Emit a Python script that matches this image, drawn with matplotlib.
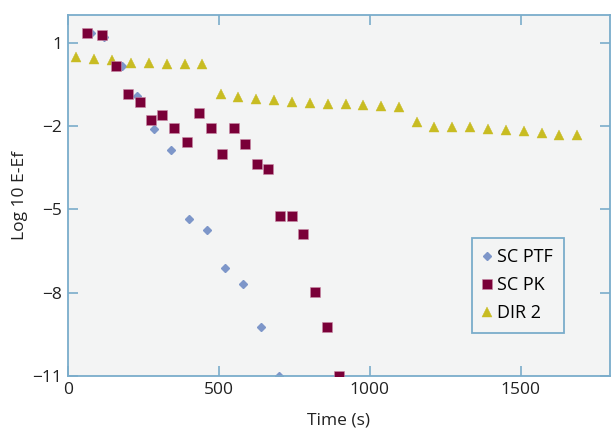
import matplotlib
matplotlib.use('Agg')
import matplotlib.pyplot as plt

plt.rcParams['font.family'] = ['Open Sans', 'DejaVu Sans']
plt.rcParams['axes.unicode_minus'] = True

# data
ptf_t = [76, 119, 178, 228, 285, 341, 401, 460, 520, 580, 639, 699]
ptf_y = [1.37, 1.2, 0.16, -0.9, -2.1, -2.86, -5.35, -5.75, -7.11, -7.69, -9.24, -11.0]

pk_t = [65, 112, 161, 200, 238, 275, 312, 352, 396, 435, 473, 511, 549, 586,
        625, 663, 702, 742, 780, 819, 858, 897]
pk_y = [1.37, 1.28, 0.16, -0.86, -1.15, -1.79, -1.59, -2.07, -2.57, -1.54,
        -2.07, -3.0, -2.06, -2.65, -3.36, -3.56, -5.23, -5.23, -5.89, -7.96,
        -9.22, -11.0]

dir_t = [27, 86, 145, 209, 268, 328, 387, 446, 506, 565, 624, 682, 742, 801,
         861, 920, 979, 1037, 1096, 1156, 1214, 1274, 1332, 1392, 1450, 1510,
         1569, 1628, 1686]
dir_y = [0.50, 0.40, 0.38, 0.28, 0.26, 0.23, 0.22, 0.22, -0.85, -0.97, -1.02,
         -1.06, -1.12, -1.18, -1.21, -1.22, -1.24, -1.28, -1.30, -1.87, -2.03,
         -2.02, -2.05, -2.12, -2.13, -2.19, -2.26, -2.32, -2.33]

xticks = [0, 500, 1000, 1500]
yticks = [1, -2, -5, -8, -11]

blue = '#7aaccb'
fig = plt.figure(figsize=(6.11, 4.29), dpi=100)
ax = fig.add_axes([0.111, 0.1235, 0.887, 0.8415])
ax.set_facecolor('#f3f4f4')

ax.plot(ptf_t, ptf_y, 'D', color='#7d96c9', ms=4.5, mec='#7d96c9', label='SC PTF', zorder=2)
ax.plot(pk_t, pk_y, 's', color='#7a0038', ms=6.8, mec='#c88aa6', mew=0.4, label='SC PK', zorder=3)
ax.plot(dir_t, dir_y, '^', color='#c8bc22', ms=7.5, mec='#c8bc22', mew=0.3, label='DIR 2', zorder=2)

ax.set_xlim(0, 1795)
ax.set_ylim(-11, 2)
ax.set_xticks(xticks)
ax.set_yticks(yticks)
ax.set_yticklabels(['1', '\u22122', '\u22125', '\u22128', '\u221211'])
ax.tick_params(direction='in', length=7, width=1.2, color=blue, labelsize=12.5,
               labelcolor='#222222', top=True, right=True, pad=4)
for s in ax.spines.values():
    s.set_color(blue)
    s.set_linewidth(1.3)

ax.set_xlabel('Time (s)', fontsize=12.5, color='#222222', labelpad=11)
ax.set_ylabel('Log 10 E-Ef', fontsize=12.5, color='#222222', labelpad=3)

leg = ax.legend(loc='lower right', bbox_to_anchor=(0.915, 0.119), fontsize=13,
                handlelength=0.5, handletextpad=0.3, borderpad=0.6,
                labelspacing=0.55, borderaxespad=0, fancybox=False, framealpha=1)
leg.get_frame().set_edgecolor(blue)
leg.get_frame().set_facecolor('#f3f4f4')
leg.get_frame().set_linewidth(1.3)

plt.savefig('out.png', dpi=100)
